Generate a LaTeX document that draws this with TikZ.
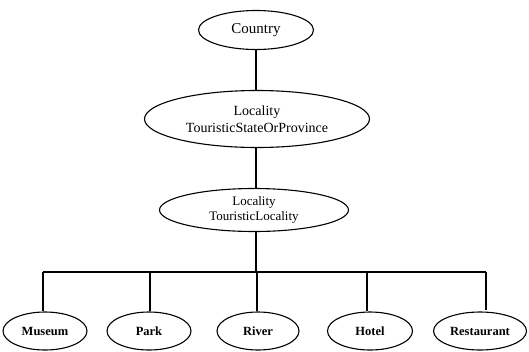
\documentclass[tikz,border=0pt]{standalone}
\usepackage{fontspec}
\setmainfont{Liberation Serif}
\usetikzlibrary{shapes.geometric}
\tikzset{
  ell/.style={draw, ellipse, line width=1.1pt, inner sep=0pt, align=center},
  top/.style={ell, font=\fontsize{14}{16.5}\selectfont},
  leaf/.style={ell, minimum height=38pt, font=\fontsize{12.5}{14}\selectfont\bfseries},
  conn/.style={line width=1.1pt}
}
\begin{document}
\begin{tikzpicture}[x=1pt,y=-1pt]
\useasboundingbox (0,0) rectangle (529,351);
\node[top, minimum width=115pt, minimum height=39pt, font=\fontsize{15}{17}\selectfont] (country) at (256,30) {Country};
\node[top, minimum width=225pt, minimum height=57pt] (state) at (257,119) {Locality\\TouristicStateOrProvince};
\node[top, minimum width=189pt, minimum height=43pt, font=\fontsize{13}{15.5}\selectfont] (loc) at (254,210) {Locality\\TouristicLocality};
\node[leaf, minimum width=84pt] (museum) at (45,331) {Museum};
\node[leaf, minimum width=84pt] (park) at (149,331) {Park};
\node[leaf, minimum width=82pt] (river) at (258,331) {River};
\node[leaf, minimum width=85pt] (hotel) at (370,331) {Hotel};
\node[leaf, minimum width=93pt] (rest) at (480,331) {Restaurant};
\coordinate (hub) at (256,272);
\coordinate (b1) at (43,272);
\coordinate (b2) at (150,272);
\coordinate (b3) at (257,272);
\coordinate (b4) at (367,272);
\coordinate (b5) at (486,272);
\draw[conn] (country.south -| hub) -- (state.north -| hub);
\draw[conn] (state.south -| hub) -- (loc.north -| hub);
\draw[conn] (loc.south -| hub) -- (hub);
\draw[conn] (b1) -- (b5);
\draw[conn] (b1) -- ++(0,39);
\draw[conn] (b2) -- (b2 |- park.north);
\draw[conn] (b3) -- (b3 |- river.north);
\draw[conn] (b4) -- ++(0,39);
\draw[conn] (b5) -- ++(0,38);
\end{tikzpicture}
\end{document}
